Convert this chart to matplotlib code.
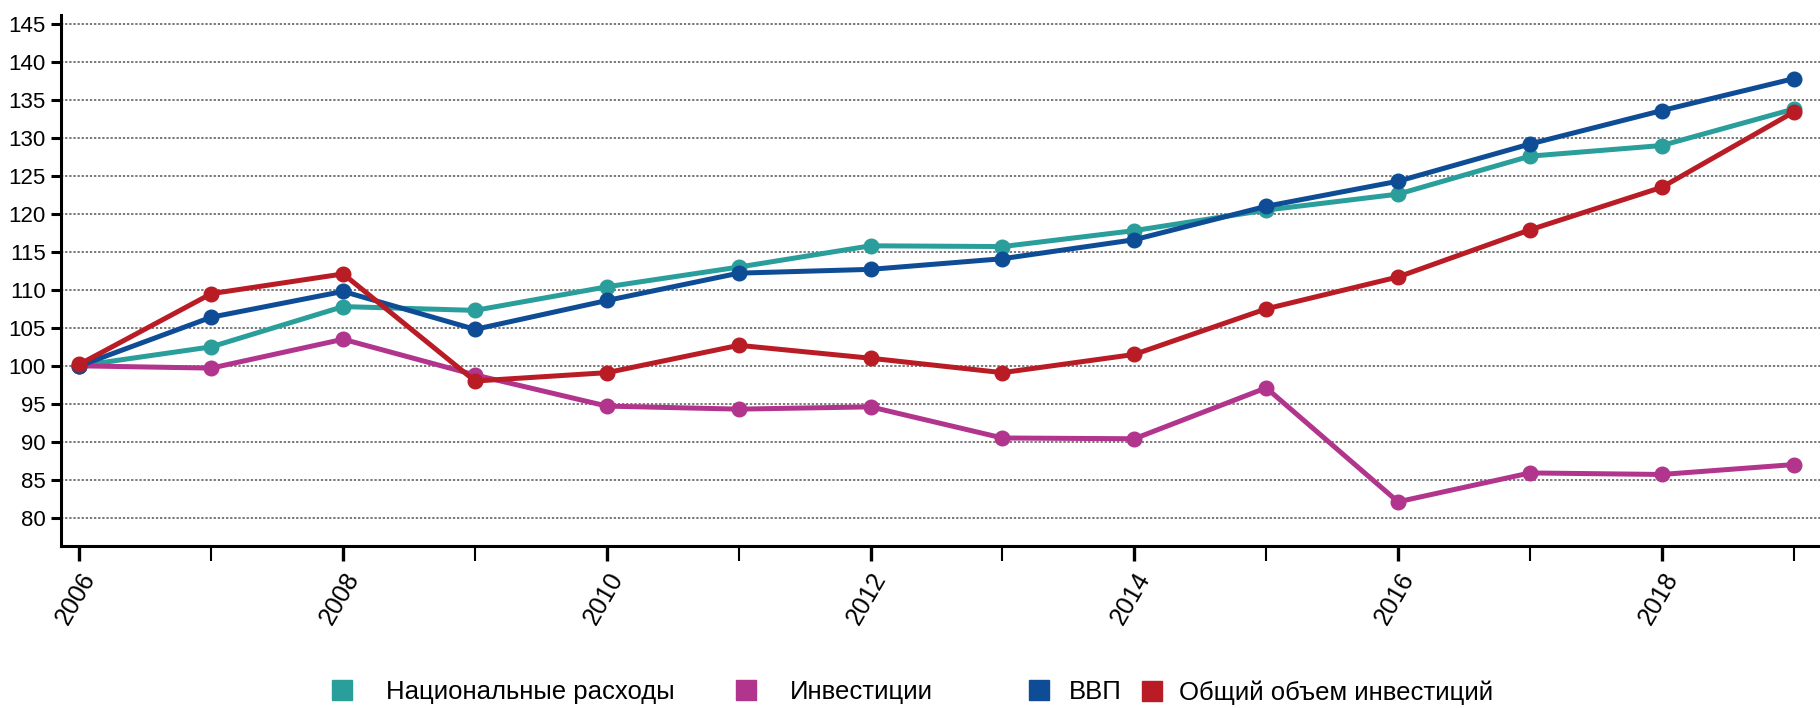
import matplotlib
matplotlib.use("Agg")
import matplotlib.pyplot as plt
from matplotlib.lines import Line2D
from matplotlib.ticker import MultipleLocator

plt.rcParams['font.family'] = ['Liberation Sans', 'DejaVu Sans']

# Data (index, 2006 = 100)
years = [2006, 2007, 2008, 2009, 2010, 2011, 2012, 2013, 2014, 2015, 2016, 2017, 2018, 2019]
national_spending = [100, 102.5, 107.8, 107.3, 110.4, 113.0, 115.8, 115.7, 117.8, 120.5, 122.6, 127.6, 129.0, 133.8]
investments = [100, 99.7, 103.5, 98.8, 94.7, 94.3, 94.6, 90.5, 90.4, 97.1, 82.1, 85.9, 85.7, 87.0]
gdp = [100, 106.4, 109.8, 104.8, 108.6, 112.2, 112.7, 114.1, 116.6, 121.0, 124.3, 129.2, 133.6, 137.8]
total_investments = [100.2, 109.5, 112.1, 98.0, 99.1, 102.7, 101.0, 99.1, 101.5, 107.5, 111.7, 117.9, 123.5, 133.4]

labels = ["Национальные расходы", "Инвестиции", "ВВП", "Общий объем инвестиций"]
colors = ["#2a9e9b", "#b1358c", "#0e4d95", "#b91c24"]
series = [national_spending, investments, gdp, total_investments]

fig = plt.figure(figsize=(18.2, 7.08), dpi=100)
ax = fig.add_axes([0.0335, 0.229, 0.9665, 0.75])

for vals, col in zip(series, colors):
    ax.plot(years, vals, color=col, lw=3.6, marker='o', markersize=10.5,
            markerfacecolor=col, markeredgecolor=col, zorder=3)

ax.set_xlim(2005.86, 2019.2)
ax.set_ylim(76.3, 146.2)
ax.set_yticks(range(80, 146, 5))
ax.xaxis.set_major_locator(MultipleLocator(2))
ax.xaxis.set_minor_locator(MultipleLocator(1))

for y in range(80, 146, 5):
    ax.axhline(y, color='#555555', lw=1.1, ls=(0, (1.5, 1.2)), zorder=1)

for s in ['top', 'right']:
    ax.spines[s].set_visible(False)
ax.spines['left'].set_linewidth(2.2)
ax.spines['bottom'].set_linewidth(2.2)

ax.tick_params(axis='y', length=7, width=2.2, labelsize=16, pad=4)
ax.tick_params(axis='x', which='major', length=11, width=2.4, labelsize=18, pad=5)
ax.tick_params(axis='x', which='minor', length=11, width=1.5)
for lbl in ax.get_xticklabels():
    lbl.set_rotation(60)
    lbl.set_ha('right')
    lbl.set_rotation_mode('anchor')

# legend: separate entries to match uneven spacing
legend_x = [0.174, 0.396, 0.557, 0.619]
legend_pad = [1.1, 1.1, 0.55, 0.45]
for lab, col, lx, pad in zip(labels, colors, legend_x, legend_pad):
    h = Line2D([], [], color=col, marker='s', ls='none', markersize=15)
    fig.legend([h], [lab], loc='center left', bbox_to_anchor=(lx, 0.022),
               frameon=False, fontsize=18.5, handlelength=1.2, handletextpad=pad,
               borderaxespad=0)

fig.savefig("out.png", dpi=100)
